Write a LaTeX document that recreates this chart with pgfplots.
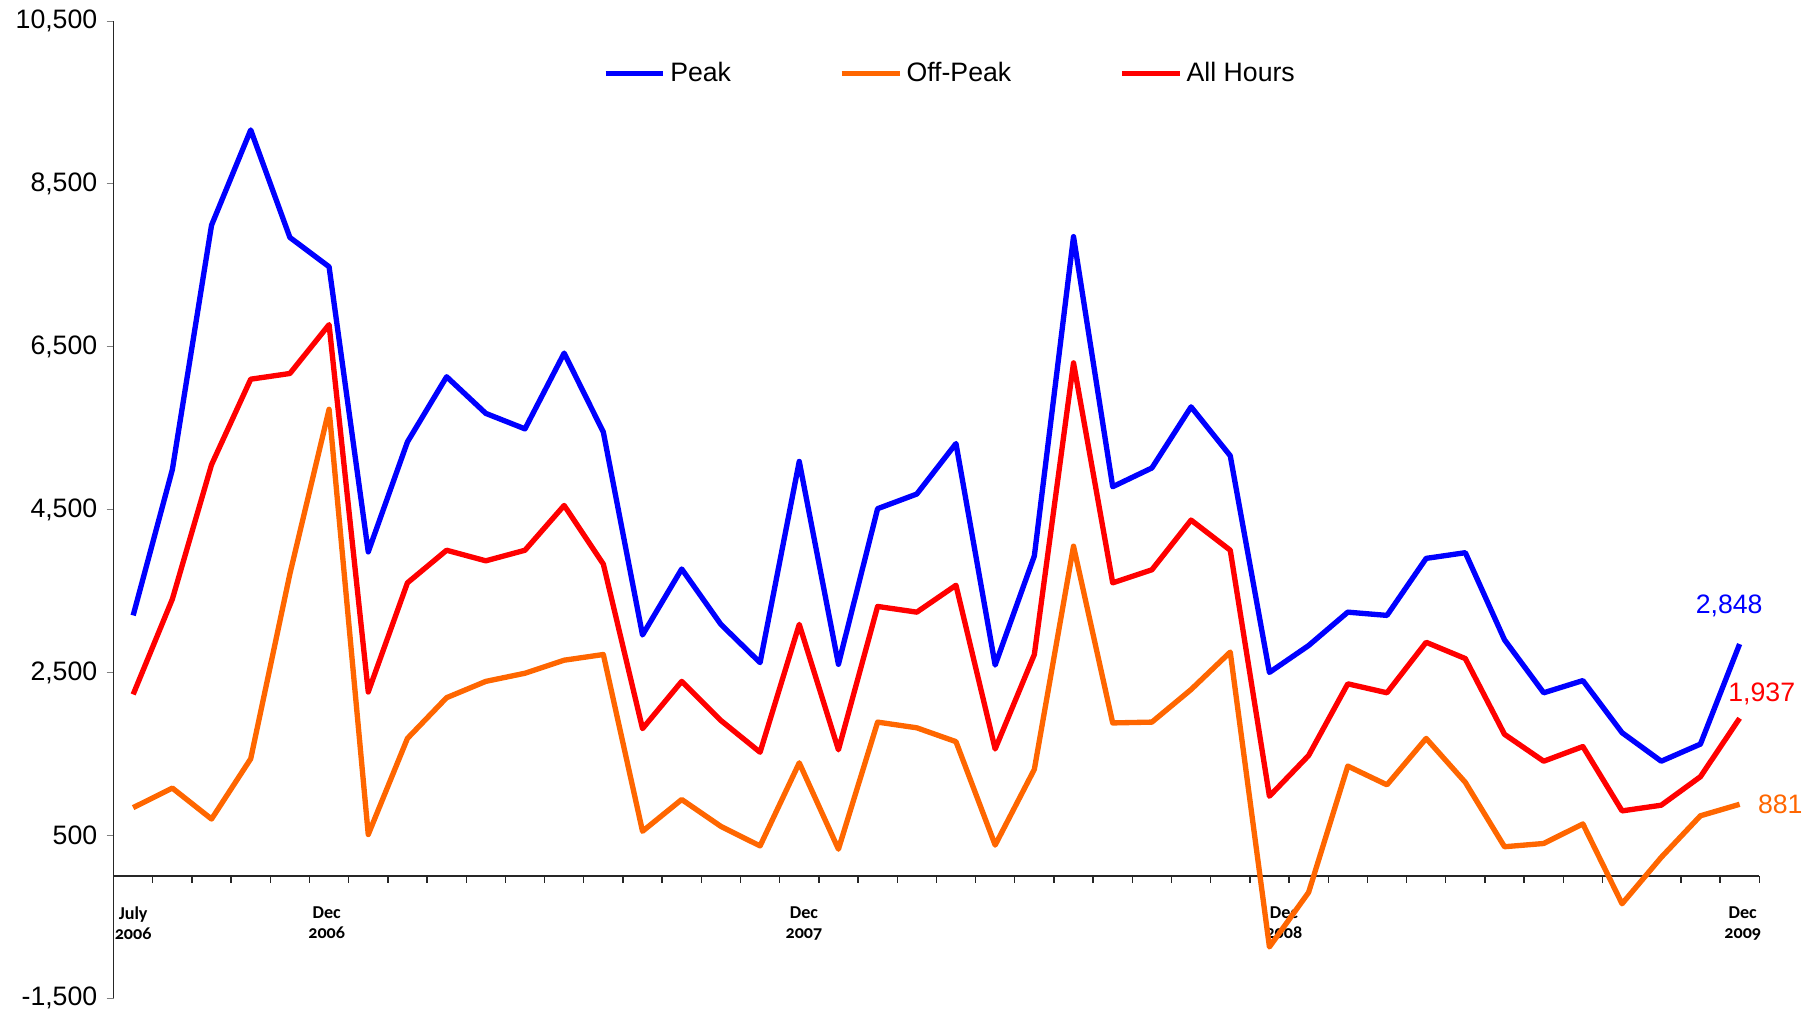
\documentclass[border=0pt]{standalone}
\usepackage{fontspec}
\setmainfont{Liberation Sans}
\newfontfamily\tickfont[Numbers=OldStyle]{Carlito}
\usepackage{pgfplots}
\usepackage{pgfplotstable}
\pgfplotsset{compat=1.18}

\definecolor{peakc}{RGB}{0,0,255}
\definecolor{offpeakc}{RGB}{255,102,0}
\definecolor{allc}{RGB}{255,0,0}

% monthly values, July 2006 (0) to Dec 2009 (41)
\pgfplotstableread{
idx peak offpeak all
0  3200  840  2230
1  4990  1080 3400
2  7990  700  5050
3  9160  1440 6100
4  7840  3710 6170
5  7480  5730 6770
6  3980  510  2260
7  5330  1690 3600
8  6130  2190 4000
9  5680  2390 3870
10 5490  2490 4000
11 6420  2650 4550
12 5450  2720 3830
13 2960  550  1810
14 3770  940  2390
15 3090  610  1910
16 2620  370  1520
17 5090  1390 3090
18 2600  330  1550
19 4510  1890 3310
20 4690  1820 3240
21 5310  1650 3570
22 2590  380  1560
23 3930  1310 2720
24 7850  4050 6300
25 4780  1880 3600
26 5010  1890 3760
27 5760  2290 4370
28 5160  2750 4000
29 2500  -870 980
30 2830  -200 1480
31 3240  1350 2360
32 3200  1120 2250
33 3900  1690 2870
34 3970  1150 2670
35 2900  360  1740
36 2250  400  1410
37 2400  640  1590
38 1760  -340 800
39 1410  230  870
40 1620  740  1220
41 2848  881  1937
}\prices

\begin{document}
\begin{tikzpicture}
\begin{axis}[
  at={(0,0)}, anchor=south west,
  scale only axis,
  width=617.2pt, height=366.6pt,
  xmin=-0.5, xmax=41.5,
  ymin=-1500, ymax=10500,
  axis x line=middle, axis y line=left,
  axis line style={-, line width=0.6pt, black!85},
  clip=false,
  tick align=outside,
  ytick={-1500,500,2500,4500,6500,8500,10500},
  yticklabels={{-1,500},{500},{2,500},{4,500},{6,500},{8,500},{10,500}},
  yticklabel style={font=\fontsize{10}{12}\selectfont},
  major tick length=2.6pt,
  minor tick length=2.6pt,
  % label positions as placed in the original (slightly off the month points)
  xtick={0,4.94,17.12,29.37,41.08},
  xticklabels={{July\\2006},{Dec\\2006},{Dec\\2007},{Dec\\2008},{Dec\\2009}},
  major x tick style={draw=none},
  minor xtick={0.5,1.5,...,41.5},
  minor x tick style={line width=0.5pt, black!85},
  xticklabel style={font=\tickfont\bfseries\fontsize{6.8}{7.4}\selectfont, align=center, anchor=north, yshift=-5.5pt},
  legend columns=3,
  legend style={draw=none, fill=none, at={(0.297,0.946)}, anchor=west,
    inner sep=0pt, font=\fontsize{10}{12}\selectfont,
    nodes={inner xsep=1.6pt},
    /tikz/every even column/.append style={column sep=38.9pt}},
  legend image code/.code={\draw[#1] (0pt,0pt) -- (21.7pt,0pt);},
  every axis plot/.append style={line width=2pt, line join=round},
]
\addplot[peakc] table[x=idx, y=peak] {\prices};
\addlegendentry{Peak}
\addplot[offpeakc] table[x=idx, y=offpeak] {\prices};
\addlegendentry{Off-Peak}
\addplot[allc] table[x=idx, y=all] {\prices};
\addlegendentry{All Hours}

\node[text=peakc, font=\fontsize{10}{12}\selectfont, anchor=center] at (axis cs:41,2848) [xshift=-3.9pt, yshift=14.3pt] {2,848};
\node[text=allc, font=\fontsize{10}{12}\selectfont, anchor=center] at (axis cs:41,1937) [xshift=8.3pt, yshift=9.1pt] {1,937};
\node[text=offpeakc, font=\fontsize{10}{12}\selectfont, anchor=west] at (axis cs:41,881) [xshift=3.4pt] {881};
\end{axis}
\pgfresetboundingbox
\path (-42.6pt,-5.5pt) rectangle (638.5pt,374.4pt);
\end{tikzpicture}
\end{document}
